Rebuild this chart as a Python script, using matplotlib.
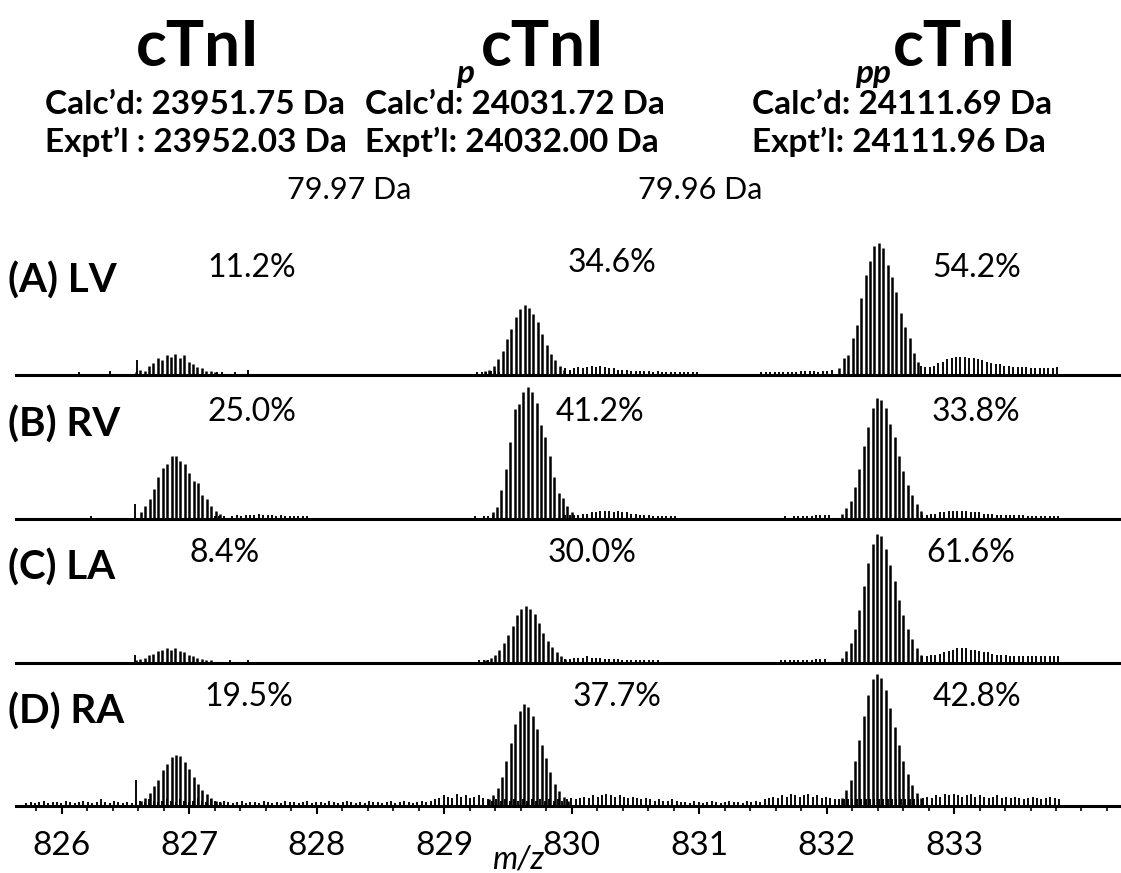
import matplotlib
matplotlib.use("Agg")
import matplotlib.pyplot as plt
from matplotlib.ticker import MultipleLocator
import numpy as np

# ---------------- data ----------------
ISO = 1 / 29  # isotope spacing (charge 29+)

forms = ["cTnI", "cTnI", "cTnI"]
form_prefix = ["", "p", "pp"]
calc_mass = ["23951.75", "24031.72", "24111.69"]
expt_mass = ["23952.03", "24032.00", "24111.96"]
mass_shift = ["79.97", "79.96"]
panel_labels = ["(A) LV", "(B) RV", "(C) LA", "(D) RA"]
pct_A = ["11.2%", "34.6%", "54.2%"]
pct_B = ["25.0%", "41.2%", "33.8%"]
pct_C = ["8.4%", "30.0%", "61.6%"]
pct_D = ["19.5%", "37.7%", "42.8%"]
xticks = [826, 827, 828, 829, 830, 831, 832, 833]

# cluster start m/z (cTnI, pcTnI, ppcTnI) and isotope heights (relative)
A_start = [826.58, 829.32, 832.10]
A_cTnI = [2, 4, 3, 7, 9, 13, 11, 15, 14, 16, 13, 15, 10, 8, 6, 5, 3, 3, 2]
A_pcTnI = [3, 4, 7, 12, 18, 27, 35, 44, 50, 53, 51, 46, 40, 31, 23, 16, 11, 7, 4]
A_ppcTnI = [5, 13, 15, 28, 38, 58, 76, 86, 98, 100, 96, 83, 74, 63, 47, 36, 28, 17, 10]

B_start = [826.62, 829.38, 832.12]
B_cTnI = [5, 10, 15, 23, 32, 39, 42, 48, 48, 44, 42, 35, 29, 27, 18, 15, 10, 6, 4]
B_pcTnI = [5, 9, 22, 38, 58, 83, 87, 96, 100, 96, 88, 71, 62, 48, 32, 20, 16, 10, 5]
B_ppcTnI = [4, 8, 14, 24, 38, 55, 70, 84, 92, 90, 84, 72, 62, 48, 36, 26, 18, 11, 6]

C_start = [826.58, 829.33, 832.12]
C_cTnI = [2, 3, 4, 6, 7, 9, 10, 11, 10, 11, 9, 8, 6, 5, 4, 3, 2, 2, 1]
C_pcTnI = [2, 4, 6, 10, 15, 21, 28, 36, 41, 43, 41, 37, 30, 23, 17, 12, 8, 5, 3]
C_ppcTnI = [4, 9, 15, 26, 40, 58, 76, 90, 98, 96, 86, 74, 62, 48, 36, 26, 18, 11, 6]

D_start = [826.62, 829.35, 832.12]
D_cTnI = [4, 6, 10, 15, 20, 27, 32, 37, 39, 38, 33, 28, 22, 17, 12, 9, 6, 4, 3]
D_pcTnI = [5, 8, 14, 22, 34, 48, 62, 72, 77, 75, 68, 58, 46, 36, 26, 17, 11, 7, 4]
D_ppcTnI = [6, 12, 20, 34, 50, 68, 84, 96, 100, 97, 88, 74, 60, 46, 34, 24, 16, 10, 6]

# minor signals (start m/z, isotope heights)
A_minor_start = [826.00, 827.22, 828.95, 829.95, 831.35, 832.74]
A_minor = [
    [1, 1, 1, 1, 2, 1, 1, 1, 1, 1, 0, 3, 0, 0, 0, 0, 0, 11],
    [2, 2, 1, 1, 2, 1, 1, 4, 1, 1, 1, 1, 1, 1, 1, 1, 1, 1, 1, 1, 1, 1, 1, 1, 1, 1, 1, 1],
    [1, 1, 1, 1, 1, 1, 1, 1, 1, 2, 2, 2, 3, 3, 2],
    [5, 4, 5, 6, 5, 6, 7, 6, 7, 6, 5, 5, 4, 4, 4, 3, 3, 3, 3, 3, 2, 3, 2, 2, 2, 2, 2, 2, 2, 2, 2],
    [1, 1, 1, 1, 2, 2, 2, 2, 2, 2, 2, 2, 2, 3, 3, 3, 3, 2, 3, 3, 4],
    [7, 6, 6, 7, 9, 10, 12, 13, 14, 14, 14, 13, 13, 12, 11, 10, 9, 8, 8, 7, 7, 6, 6, 6, 6, 5, 5, 5, 5, 5, 5, 6],
]
B_minor_start = [826.02, 827.20, 829.00, 829.95, 831.40, 832.75]
B_minor = [
    [1, 1, 1, 1, 1, 1, 2, 1, 1, 1, 1, 1, 1, 1, 1, 1, 11],
    [2, 2, 2, 1, 2, 3, 2, 3, 3, 3, 4, 3, 3, 3, 2, 3, 2, 2, 2, 2, 2, 2, 1, 1, 1, 1, 1, 1, 1, 1],
    [1, 1, 1, 1, 1, 1, 1, 2, 1, 2, 2, 3],
    [3, 3, 3, 3, 4, 4, 5, 5, 6, 6, 6, 5, 6, 5, 5, 4, 4, 3, 3, 3, 2, 2, 2, 2, 2, 2, 1],
    [1, 1, 1, 1, 1, 1, 1, 1, 2, 1, 2, 2, 2, 2, 2, 3, 3, 3, 3],
    [3, 3, 4, 4, 5, 5, 6, 6, 6, 6, 6, 5, 5, 5, 4, 4, 4, 3, 3, 3, 3, 3, 3, 3, 2, 2, 2, 2, 2, 2, 2, 2],
]
C_minor_start = [826.02, 827.25, 829.00, 829.95, 831.40, 832.75]
C_minor = [
    [1, 1, 1, 1, 1, 1, 1, 1, 1, 1, 1, 1, 1, 1, 1, 1, 6],
    [1, 1, 2, 1, 1, 1, 2, 1, 1, 1, 1, 1, 1, 1, 1, 1, 1, 1, 1, 1],
    [1, 1, 1, 1, 1, 1, 1, 1, 2, 2, 2],
    [3, 3, 4, 4, 4, 5, 4, 4, 4, 3, 3, 3, 3, 2, 2, 2, 2, 2, 2, 2, 2, 2, 1, 1, 1, 1, 1],
    [1, 1, 1, 1, 1, 1, 1, 2, 2, 2, 2, 2, 2, 2, 2, 3, 3, 3],
    [5, 5, 6, 6, 7, 8, 9, 10, 11, 11, 11, 10, 10, 9, 8, 8, 7, 6, 6, 6, 5, 5, 5, 5, 5, 5, 5, 5, 5, 5, 5, 5],
]
D_minor_start = [825.72, 826.58]
D_minor = [
    [2, 3, 2, 3, 4, 2, 3, 3, 2, 4, 3, 2, 3, 4, 3, 2, 3, 5, 3, 2, 4, 3, 2, 3, 2,
     3, 4, 3, 5, 4, 3, 4, 5, 4, 3, 5, 4, 3, 4, 6, 4, 3, 5, 4, 3, 4, 3,
     2, 3, 4, 2, 3, 3, 2, 4, 3, 2, 3, 2, 4, 3, 3, 2, 3, 4, 2, 3, 3, 2, 4, 3, 2, 3, 4,
     3, 2, 3, 2, 4, 3, 3, 2, 3, 4, 2, 3, 4, 3, 2, 3, 4, 3, 4,
     5, 6, 8, 7, 6, 9, 7, 8, 6, 7, 8, 6, 5,
     4, 5, 4, 5, 4, 5, 4, 5, 4, 5, 4, 5, 4, 5, 4, 5, 4,
     5, 6, 5, 6, 7, 6, 8, 7, 8, 9, 8, 7, 8, 7, 6, 7, 6, 5, 6, 5, 4, 5, 4, 4, 5, 4, 3,
     3, 2, 4, 3, 2, 3, 4, 3, 2, 3, 4, 3, 3, 2, 4, 3, 4, 3,
     5, 6, 7, 6, 8, 7, 9, 8, 7, 8, 9, 7, 8, 6, 7, 6,
     5, 5, 5, 5, 5, 5, 5, 5, 5, 5, 5, 5, 5, 5, 5, 5, 5, 5, 5, 5,
     6, 7, 6, 8, 7, 9, 8, 9, 8, 7, 8, 9, 7, 8, 7, 6, 7, 8, 6, 7, 6, 7, 6, 5, 6, 7, 6, 5, 6, 7, 6, 5],
    [20],
]

panels = [
    (A_start, [A_cTnI, A_pcTnI, A_ppcTnI], A_minor_start, A_minor, pct_A),
    (B_start, [B_cTnI, B_pcTnI, B_ppcTnI], B_minor_start, B_minor, pct_B),
    (C_start, [C_cTnI, C_pcTnI, C_ppcTnI], C_minor_start, C_minor, pct_C),
    (D_start, [D_cTnI, D_pcTnI, D_ppcTnI], D_minor_start, D_minor, pct_D),
]

# ---------------- layout ----------------
W, H, DPI = 1121, 873, 100
FONT = "Lato"
LW = 1.8
fig = plt.figure(figsize=(W / DPI, H / DPI), dpi=DPI)
fig.patch.set_facecolor("white")


def ftext(x, y, s, **kw):
    kw.setdefault("family", FONT)
    kw.setdefault("ha", "center")
    kw.setdefault("va", "center")
    fig.text(x / W, 1 - y / H, s, **kw)


# header
title_x = [198, 543, 955]
prefix_x = [None, 465, 873]
for i in range(3):
    ftext(title_x[i], 47, forms[i], fontsize=46, fontweight="bold")
    if form_prefix[i]:
        ftext(prefix_x[i], 74, form_prefix[i], fontsize=24, fontweight="bold",
              style="italic")
col_left = [45, 365, 752]
for i in range(3):
    ftext(col_left[i], 105, "Calc\u2019d: %s Da" % calc_mass[i], fontsize=24,
          fontweight="bold", ha="left")
    sep = " : " if i == 0 else ": "
    ftext(col_left[i], 142, "Expt\u2019l%s%s Da" % (sep, expt_mass[i]), fontsize=24,
          fontweight="bold", ha="left")
shift_x = [349, 700]
for i in range(2):
    ftext(shift_x[i], 190, "%s Da" % mass_shift[i], fontsize=22)

baselines = [375, 519, 663, 806]
label_y = [281, 425, 568, 712]
pct_pos = [
    [(252, 268), (612, 263), (977, 268)],
    [(252, 412), (600, 412), (976, 412)],
    [(225, 553), (592, 553), (971, 553)],
    [(249, 697), (617, 697), (977, 697)],
]
UNIT_PX = 1.32
AX_H = 140
xmin, xmax = 825.64, 834.31

for p, (starts, clusters, mstarts, minors, pcts) in enumerate(panels):
    yb = baselines[p]
    ax = fig.add_axes([16 / W, (H - yb) / H, 1 - 16 / W, AX_H / H])
    ax.set_xlim(xmin, xmax)
    ax.set_ylim(0, AX_H / UNIT_PX)
    ax.patch.set_alpha(0)
    for s in ["top", "left", "right"]:
        ax.spines[s].set_visible(False)
    ax.spines["bottom"].set_linewidth(2.2)
    ax.set_yticks([])
    for st, hs in zip(mstarts, minors):
        x = st + np.arange(len(hs)) * ISO
        ax.vlines(x, 0, hs, color="black", lw=LW * 0.75)
    for st, hs in zip(starts, clusters):
        x = st + np.arange(len(hs)) * ISO
        ax.vlines(x, 0, hs, color="black", lw=LW)
    if p < 3:
        ax.set_xticks([])
        ax.tick_params(axis="x", which="both", bottom=False, labelbottom=False)
    else:
        ax.set_xticks(xticks)
        ax.set_xticklabels([str(t) for t in xticks], family=FONT, fontsize=24)
        ax.xaxis.set_minor_locator(MultipleLocator(0.2))
        ax.tick_params(axis="x", which="major", direction="out", length=6,
                       width=1.5, pad=12)
        ax.tick_params(axis="x", which="minor", direction="out", length=3.5,
                       width=1.2)
    ftext(8, label_y[p], panel_labels[p], fontsize=29, fontweight="bold", ha="left")
    for (px, py), t in zip(pct_pos[p], pcts):
        ftext(px, py, t, fontsize=23)

ftext(518, 860, "m/z", fontsize=23, style="italic")

fig.savefig("out.png", dpi=DPI, facecolor="white")
